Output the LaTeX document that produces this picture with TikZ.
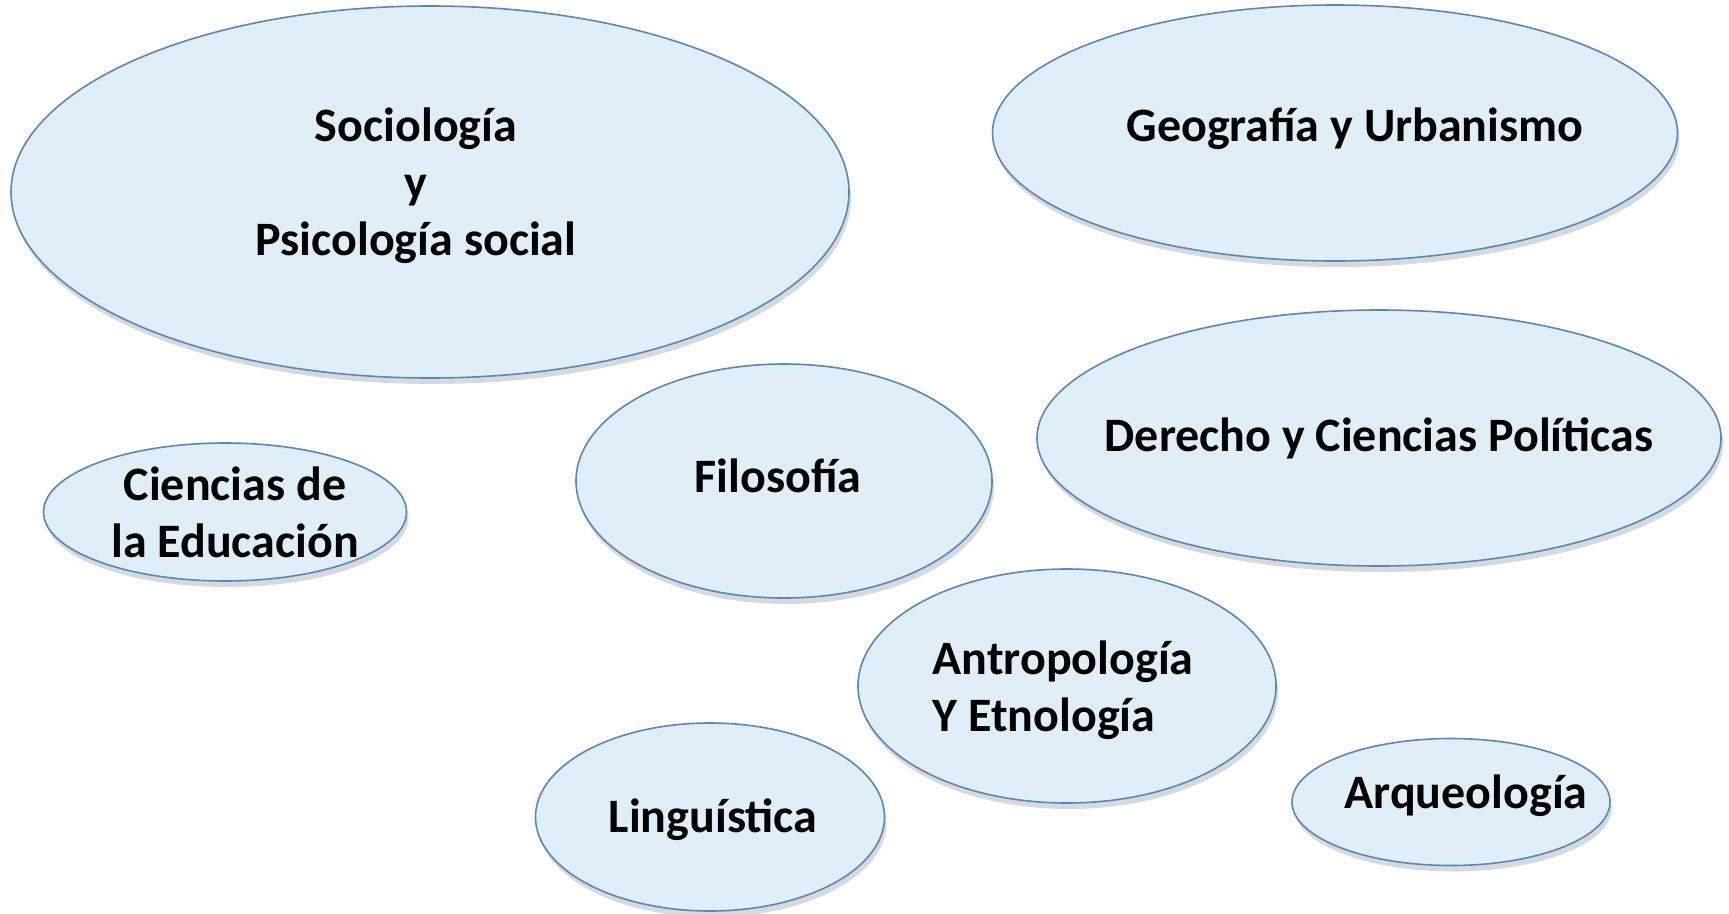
\documentclass[tikz,border=0pt]{standalone}
\usepackage{fontspec}
\setmainfont{Carlito}
\usetikzlibrary{shapes.geometric,shadows}
\definecolor{bubblefill}{HTML}{E0EEF7}
\definecolor{bubbleline}{HTML}{5587C4}
\tikzset{
  bubble/.style={ellipse,draw=bubbleline,fill=bubblefill,line width=1.6pt,inner sep=0pt,
    drop shadow={shadow xshift=2pt,shadow yshift=-6pt,opacity=.15,fill=black}},
  txt/.style={font=\fontsize{48}{57}\selectfont\bfseries,align=center,inner sep=0pt}
}
\begin{document}
\begin{tikzpicture}[x=1pt,y=-1pt]

    \useasboundingbox (0,0) rectangle (1729,913);

    % ellipses
    \begin{scope}[every node/.style={bubble}]
        \node[minimum width=838,minimum height=372] (1) at (430,192) {};
        \node[minimum width=685,minimum height=256] (2) at (1335,133) {};
        \node[minimum width=684,minimum height=256] (3) at (1379,438) {};
        \node[minimum width=416,minimum height=234] (4) at (784,481) {};
        \node[minimum width=363,minimum height=138] (5) at (225,512) {};
        \node[minimum width=418,minimum height=234] (6) at (1067,686) {};
        \node[minimum width=349,minimum height=188] (7) at (710,817) {};
        \node[minimum width=318,minimum height=127] (8) at (1451,802) {};
    \end{scope}

    % labels
    \begin{scope}[every node/.style={txt}]
        \node (t1) at (416,186) {Sociología\\y\\Psicología social};
        \node (t2) at (1355,129) {Geografía y Urbanismo};
        \node (t3) at (1379,438) {Derecho y Ciencias Políticas};
        \node (t4) at (778,476) {Filosofía};
        \node (t5) at (235,512) {Ciencias de\\la Educación};
        \node[align=left] (t6) at (1063,690) {Antropología\\Y Etnología};
        \node (t7) at (713,820) {Linguística};
        \node (t8) at (1466,796) {Arqueología};
    \end{scope}

\end{tikzpicture}
\end{document}
